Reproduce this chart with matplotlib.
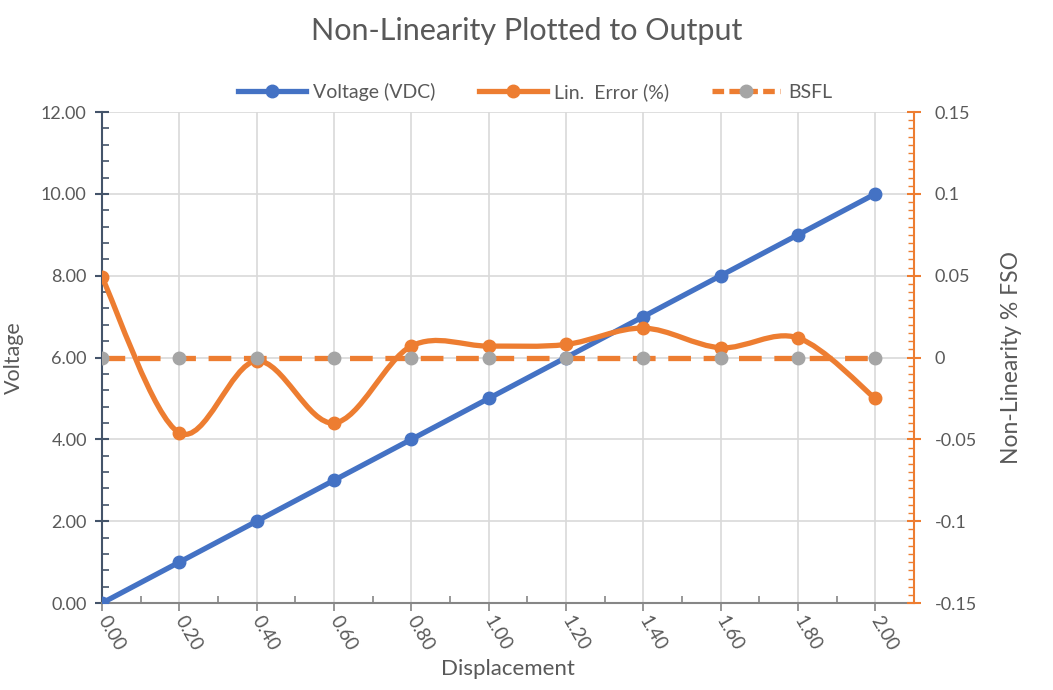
import matplotlib
matplotlib.use('Agg')
import matplotlib.pyplot as plt
import numpy as np
from matplotlib.path import Path
from matplotlib.patches import PathPatch
from matplotlib.lines import Line2D
from matplotlib.ticker import MultipleLocator, FormatStrFormatter

plt.rcParams['font.family'] = ['Lato', 'DejaVu Sans']

# data
displacement = [0.0, 0.2, 0.4, 0.6, 0.8, 1.0, 1.2, 1.4, 1.6, 1.8, 2.0]
voltage = [0, 1, 2, 3, 4, 5, 6, 7, 8, 9, 10]
lin_error = [0.049, -0.046, -0.002, -0.040, 0.007, 0.007, 0.008, 0.018, 0.006, 0.012, -0.025]
bsfl = [0, 0, 0, 0, 0, 0, 0, 0, 0, 0, 0]
xtick_vals = [0, 0.2, 0.4, 0.6, 0.8, 1.0, 1.2, 1.4, 1.6, 1.8, 2.0]
y2_ticks = [-0.15, -0.1, -0.05, 0, 0.05, 0.1, 0.15]
y2_labels = ['-0.15', '-0.1', '-0.05', '0', '0.05', '0.1', '0.15']

blue = '#4472C4'
orange = '#ED7D31'
gray = '#A5A5A5'
txt = '#595959'
LW = 3.8
MS = 9

fig = plt.figure(figsize=(10.53, 6.90), dpi=100)
ax = fig.add_axes([0.0969, 0.126, 0.771, 0.7116])
ax2 = ax.twinx()

# voltage on primary axis
ax.plot(displacement, voltage, color=blue, lw=LW, marker='o', ms=MS, zorder=3)
ax.set_xlim(0, 2.1)
ax.set_ylim(0, 12)
ax.xaxis.set_minor_locator(MultipleLocator(0.1))
ax.yaxis.set_major_locator(MultipleLocator(2))
ax.yaxis.set_minor_locator(MultipleLocator(0.4))
ax.set_xticks(xtick_vals)
ax.xaxis.set_major_formatter(FormatStrFormatter('%.2f'))
ax.yaxis.set_major_formatter(FormatStrFormatter('%.2f'))
ax.grid(True, which='major', color='#D9D9D9', lw=1.2)
ax.set_axisbelow(True)

# smoothed line (Excel style bezier through points)
def smooth_path(xs, ys):
    pts = np.column_stack([xs, ys]).astype(float)
    verts = [pts[0]]
    codes = [Path.MOVETO]
    n = len(pts)
    for i in range(n - 1):
        p0 = pts[max(i - 1, 0)]
        p1 = pts[i]
        p2 = pts[i + 1]
        p3 = pts[min(i + 2, n - 1)]
        c1 = p1 + (p2 - p0) / 6.0
        c2 = p2 - (p3 - p1) / 6.0
        verts += [c1, c2, p2]
        codes += [Path.CURVE4] * 3
    return Path(verts, codes)

ax2.add_patch(PathPatch(smooth_path(displacement, lin_error), facecolor='none',
                        edgecolor=orange, lw=LW, zorder=2))
ax2.plot(displacement, lin_error, ls='none', marker='o', ms=MS, color=orange, zorder=3)
ax2.plot(displacement, bsfl, color=orange, lw=LW, dashes=(4.3, 2.4), zorder=4)
ax2.plot(displacement, bsfl, ls='none', marker='o', ms=MS, color=gray, zorder=5)
ax2.set_ylim(-0.15, 0.15)
ax2.set_yticks(y2_ticks)
ax2.set_yticklabels(y2_labels)
ax2.yaxis.set_minor_locator(MultipleLocator(0.005))

# spines and ticks
ax.spines['top'].set_visible(False)
ax2.spines['top'].set_visible(False)
ax.spines['right'].set_visible(False)
ax2.spines['left'].set_visible(False)
ax2.spines['bottom'].set_visible(False)
ax.spines['left'].set_color('#44546A')
ax.spines['left'].set_linewidth(1.5)
ax.spines['bottom'].set_color('#868686')
ax.spines['bottom'].set_linewidth(1.5)
ax2.spines['right'].set_color(orange)
ax2.spines['right'].set_linewidth(1.5)

ax.tick_params(axis='y', which='major', direction='inout', length=10, width=1.5,
               color='#44546A', labelcolor=txt, labelsize=13, pad=6)
ax.tick_params(axis='y', which='minor', direction='in', length=5, width=1.2, color='#44546A')
ax.tick_params(axis='x', which='major', direction='out', length=6, width=1.2,
               color='#868686', labelcolor=txt, labelsize=13.5, pad=4)
ax.tick_params(axis='x', which='minor', direction='in', length=5, width=1.2, color='#868686')
ax2.tick_params(axis='y', which='major', direction='inout', length=10, width=1.5,
                color=orange, labelcolor=txt, labelsize=13, pad=10)
ax2.tick_params(axis='y', which='minor', direction='in', length=4, width=1.0, color=orange)

for lab in ax.get_xticklabels():
    lab.set_rotation(-60)
    lab.set_ha('left')
    lab.set_va('center')
    lab.set_rotation_mode('anchor')

ax.set_xlabel('Displacement', fontsize=16, color=txt, labelpad=4)
ax.set_ylabel('Voltage', fontsize=15.5, color=txt, labelpad=12)
ax2.set_ylabel('Non-Linearity % FSO', fontsize=16.5, color=txt, labelpad=17)
fig.suptitle('Non-Linearity Plotted to Output', fontsize=22, color=txt, y=0.975)

handles = [
    Line2D([], [], color=blue, lw=LW, marker='o', ms=MS),
    Line2D([], [], color=orange, lw=LW, marker='o', ms=MS),
    Line2D([], [], color=orange, lw=LW, dashes=(2.2, 1.0), marker='o', ms=MS,
           markerfacecolor=gray, markeredgecolor=gray),
]
fig.legend(handles, ['Voltage (VDC)', 'Lin.  Error (%)', 'BSFL'], loc='center',
           bbox_to_anchor=(0.508, 0.867), ncol=3, frameon=False, fontsize=14,
           labelcolor=txt, handlelength=3.5, columnspacing=2.2, handletextpad=0.4)

fig.savefig('out.png', dpi=100)
